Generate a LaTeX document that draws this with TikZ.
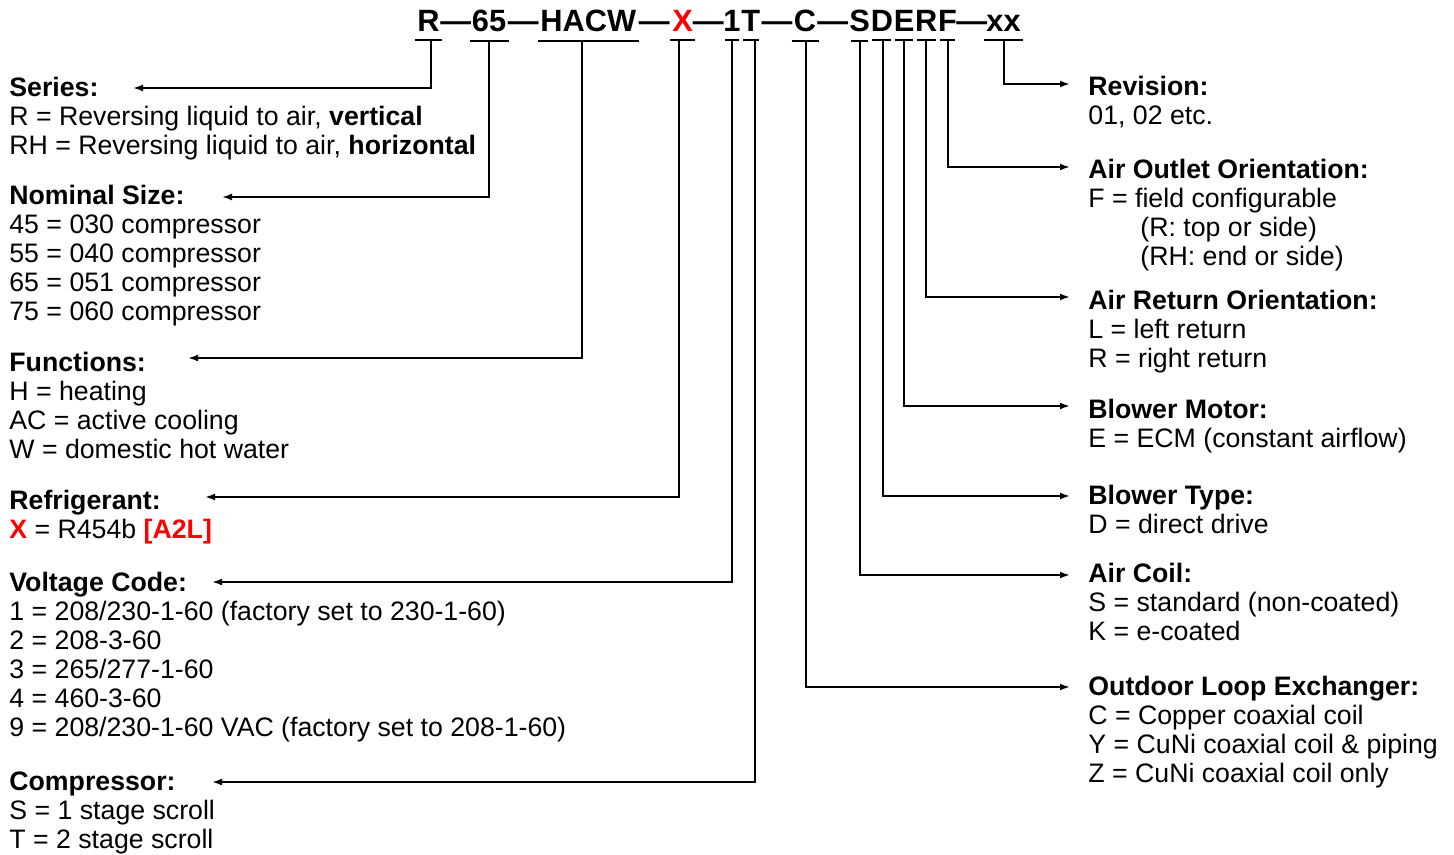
\documentclass[tikz,border=0pt]{standalone}
\usepackage{fontspec}
\setmainfont{Liberation Sans}
\usetikzlibrary{positioning, calc, arrows.meta}
\definecolor{CodeRed}{HTML}{FF0000}
\newcommand\descfont{\fontsize{13.35}{14.5}\selectfont}
\newcommand\codefont{\fontsize{15.4}{18}\selectfont\bfseries}
\newcommand\topline{\rule{0pt}{11pt}}
\tikzset{
    code/.style={inner sep=0pt, font=\codefont, anchor=base west},
    desc/.style={inner sep=0pt, anchor=north west, align=left, font=\descfont},
    bar/.style={line width=1pt},
    leader/.style={-{Latex[length=5pt,width=3.5pt]}, line width=1pt},
}

\begin{document}
\begin{tikzpicture}[x=0.5pt, y=-0.5pt]
  \useasboundingbox (0,0) rectangle (1454,855);

  % Modellschluessel oben
  \node[code] (cR) at (417,32) {R};
  \node[code] (c65) at (471.5,32) {65};
  \node[code] (cHACW) at (540,32) {HACW};
  \node[code, text=CodeRed] (cX) at (672,32) {X};
  \node[code] (c1) at (723,32) {1};
  \node[code, base right=0pt of c1] (cT) {T};
  \node[code] (cC) at (793.5,32) {C};
  \node[code] (cS) at (849,32) {S};
  \node[code, base right=0pt of cS] (cD) {D};
  \node[code, base right=0pt of cD] (cE) {E};
  \node[code, base right=0pt of cE] (cRr) {R};
  \node[code, base right=0pt of cRr] (cF) {F};
  \node[code] (cxx) at (986,32) {xx};

  % Striche zwischen den Gruppen
  \node[code, anchor=base] (d1) at ($(cR.base east)!0.5!(c65.base west)$) {\textemdash};
  \node[code, anchor=base] (d2) at ($(c65.base east)!0.5!(cHACW.base west)$) {\textemdash};
  \node[code, anchor=base] (d3) at ($(cHACW.base east)!0.5!(cX.base west)$) {\textemdash};
  \node[code, anchor=base] (d4) at ($(cX.base east)!0.5!(c1.base west)$) {\textemdash};
  \node[code, anchor=base] (d5) at ($(cT.base east)!0.5!(cC.base west)$) {\textemdash};
  \node[code, anchor=base] (d6) at ($(cC.base east)!0.5!(cS.base west)$) {\textemdash};
  \node[code, anchor=base] (d7) at ($(cF.base east)!0.5!(cxx.base west)$) {\textemdash};

  % Unterstriche
  \foreach \s in {cR,c65,cHACW,cX,cC,cxx}
    \draw[bar] ([shift={(-1pt,-4pt)}]\s.south west) -- ([shift={(1pt,-4pt)}]\s.south east);
  \foreach \s in {c1,cT,cS,cD,cE,cRr,cF}
    \draw[bar] ([shift={(1pt,-4pt)}]\s.south west) -- ([shift={(-1pt,-4pt)}]\s.south east);

  % Linke Spalte
  \node[desc] (series) at (9,74) {\topline\textbf{Series:}\\
    R = Reversing liquid to air, \textbf{vertical}\\
    RH = Reversing liquid to air, \textbf{horizontal}};
  \node[desc] (size) at (9,182.5) {\topline\textbf{Nominal Size:}\\
    45 = 030 compressor\\
    55 = 040 compressor\\
    65 = 051 compressor\\
    75 = 060 compressor};
  \node[desc] (functions) at (9,349) {\topline\textbf{Functions:}\\
    H = heating\\
    AC = active cooling\\
    W = domestic hot water};
  \node[desc] (refrigerant) at (9,487) {\topline\textbf{Refrigerant:}\\
    \textbf{\textcolor{CodeRed}{X}} = R454b \textbf{\textcolor{CodeRed}{[A2L]}}};
  \node[desc] (voltage) at (9,569) {\topline\textbf{Voltage Code:}\\
    1 = 208/230-1-60 (factory set to 230-1-60)\\
    2 = 208-3-60\\
    3 = 265/277-1-60\\
    4 = 460-3-60\\
    9 = 208/230-1-60 VAC (factory set to 208-1-60)};
  \node[desc] (compressor) at (9,768) {\topline\textbf{Compressor:}\\
    S = 1 stage scroll\\
    T = 2 stage scroll};

  % Rechte Spalte
  \node[desc] (revision) at (1088,73) {\topline\textbf{Revision:}\\
    01, 02 etc.};
  \node[desc] (outlet) at (1088,156) {\topline\textbf{Air Outlet Orientation:}\\
    F = field configurable\\
    \hspace*{26pt}(R: top or side)\\
    \hspace*{26pt}(RH: end or side)};
  \node[desc] (return) at (1088,287) {\topline\textbf{Air Return Orientation:}\\
    L = left return\\
    R = right return};
  \node[desc] (motor) at (1088,396.5) {\topline\textbf{Blower Motor:}\\
    E = ECM (constant airflow)};
  \node[desc] (blower) at (1088,482.5) {\topline\textbf{Blower Type:}\\
    D = direct drive};
  \node[desc] (coil) at (1088,560.5) {\topline\textbf{Air Coil:}\\
    S = standard (non-coated)\\
    K = e-coated};
  \node[desc] (loop) at (1088,673.5) {\topline\textbf{Outdoor Loop Exchanger:}\\
    C = Copper coaxial coil\\
    Y = CuNi coaxial coil \& piping\\
    Z = CuNi coaxial coil only};

  % Pfeilspitzen
  \coordinate (tSeries) at (133,88);
  \coordinate (tSize) at (222,197);
  \coordinate (tFunctions) at (188,358);
  \coordinate (tRefrigerant) at (205,497);
  \coordinate (tVoltage) at (212,582);
  \coordinate (tCompressor) at (212,782);
  \coordinate (tRevision) at (1070,84);
  \coordinate (tOutlet) at (1070,167);
  \coordinate (tReturn) at (1070,297);
  \coordinate (tMotor) at (1070,406);
  \coordinate (tBlower) at (1070,496);
  \coordinate (tCoil) at (1070,575);
  \coordinate (tLoop) at (1070,687);

  % Verbindungen nach links
  \draw[leader] ([xshift=1pt,yshift=-4pt]cR.south) |- (tSeries);
  \draw[leader] ([yshift=-4pt]c65.south) |- (tSize);
  \draw[leader] ([xshift=-3pt,yshift=-4pt]cHACW.south) |- (tFunctions);
  \draw[leader] ([xshift=-2pt,yshift=-4pt]cX.south) |- (tRefrigerant);
  \draw[leader] ([yshift=-4pt]c1.south) |- (tVoltage);
  \draw[leader] ([xshift=2pt,yshift=-4pt]cT.south) |- (tCompressor);

  % Verbindungen nach rechts
  \draw[leader] ([yshift=-4pt]cxx.south) |- (tRevision);
  \draw[leader] ([yshift=-4pt]cF.south) |- (tOutlet);
  \draw[leader] ([yshift=-4pt]cRr.south) |- (tReturn);
  \draw[leader] ([yshift=-4pt]cE.south) |- (tMotor);
  \draw[leader] ([xshift=0.5pt,yshift=-4pt]cD.south) |- (tBlower);
  \draw[leader] ([yshift=-4pt]cS.south) |- (tCoil);
  \draw[leader] ([xshift=0.5pt,yshift=-4pt]cC.south) |- (tLoop);
\end{tikzpicture}
\end{document}
